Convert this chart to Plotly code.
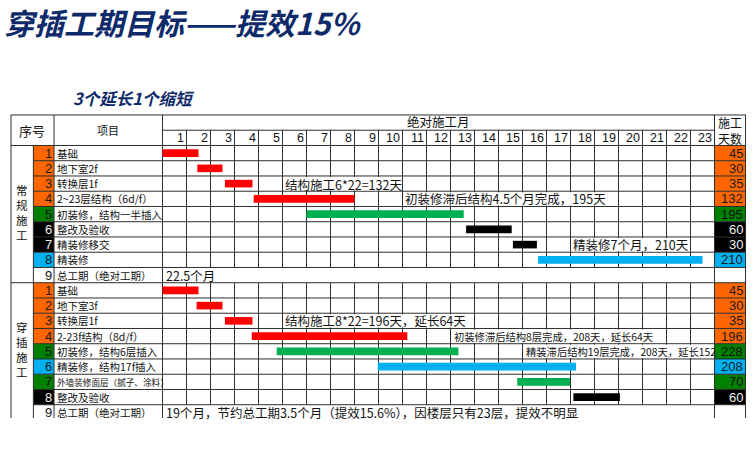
import plotly.graph_objects as go

# ---------------- data ----------------
months = list(range(1, 24))

sec1_name = "常规施工"
sec1_items = ["基础", "地下室2f", "转换层1f", "2~23层结构（6d/f）", "初装修，结构一半插入",
              "整改及验收", "精装修移交", "精装修", "总工期（绝对工期）"]
sec1_days = [45, 30, 35, 132, 195, 60, 30, 210]
sec1_start = [0.0, 1.45, 2.6, 3.8, 6.0, 12.65, 14.6, 15.65]
sec1_end = [1.5, 2.5, 3.75, 8.0, 12.55, 14.55, 15.6, 22.5]
sec1_cell = ["orange", "orange", "orange", "orange", "green", "black", "black", "cyan"]
sec1_bar = ["red", "red", "red", "red", "green", "black", "black", "cyan"]
sec1_total = "22.5个月"
sec1_notes = ["结构施工6*22=132天", "初装修滞后结构4.5个月完成，195天", "精装修7个月，210天"]

sec2_name = "穿插施工"
sec2_items = ["基础", "地下室3f", "转换层1f", "2-23f结构（8d/f）", "初装修，结构6层插入",
              "精装修，结构17f插入", "外墙装修面层（腻子、涂料）", "整改及验收", "总工期（绝对工期）"]
sec2_days = [45, 30, 35, 196, 228, 208, 70, 60]
sec2_start = [0.0, 1.42, 2.6, 3.72, 4.76, 8.97, 14.78, 17.12]
sec2_end = [1.5, 2.5, 3.75, 10.2, 12.33, 17.23, 16.98, 19.06]
sec2_cell = ["orange", "orange", "orange", "orange", "green", "cyan", "green", "black"]
sec2_bar = ["red", "red", "red", "red", "green", "cyan", "green", "black"]
sec2_total = "19个月，节约总工期3.5个月（提效15.6%），因楼层只有23层，提效不明显"
sec2_notes = ["结构施工8*22=196天，延长64天", "初装修滞后结构8层完成，208天，延长64天",
              "精装滞后结构19层完成，208天，延长152"]

title_text = "穿插工期目标——提效15%"
subtitle_text = "3个延长1个缩短"
header_month = "绝对施工月"

# ---------------- style ----------------
CELL = {"orange": "#FF6600", "green": "#008000", "black": "#000000", "cyan": "#00B0F0"}
BAR = {"red": "#FF0000", "green": "#00B050", "black": "#000000", "cyan": "#00B0F0"}
CELL_TXT = {"orange": "#1a1a1a", "green": "#111111", "black": "#f2f2f2", "cyan": "#1a1a1a"}
FONT = "Noto Sans CJK SC"
NUMFONT = "Liberation Sans"
LINE = "#2e2e2e"
NAVY = "#0E2A6B"

W, H = 755, 460
ML, MR, MT, MB = 10, 8, 113, 42
X0, X1 = -6.354, 24.354
Y0, Y1 = -0.13, 19.87

XL, XV, XN, XR, XE = -6.3125, -5.38, -4.52, 23.0, 24.3125  # column borders


def px_x(p):
    return (p - ML) / (W - ML - MR)


def px_y(p):
    return (H - MB - p) / (H - MT - MB)


fig = go.Figure()
shapes = []
ann = []


def hline(y, xa, xb):
    shapes.append(dict(type="line", xref="x", yref="y", x0=xa, x1=xb, y0=y, y1=y,
                       line=dict(color=LINE, width=1), layer="below"))


def vline(x, ya, yb):
    shapes.append(dict(type="line", xref="x", yref="y", x0=x, x1=x, y0=ya, y1=yb,
                       line=dict(color=LINE, width=1), layer="below"))


def rect(xa, xb, ya, yb, color):
    shapes.append(dict(type="rect", xref="x", yref="y", x0=xa, x1=xb, y0=ya, y1=yb,
                       fillcolor=color, line=dict(width=0), layer="below"))


def text(x, y, s, size, color="#111111", anchor="left", family=FONT, **kw):
    ann.append(dict(x=x, y=y, xref="x", yref="y", text=s, showarrow=False,
                    xanchor=anchor, yanchor="middle", borderpad=0,
                    font=dict(family=family, size=size, color=color), **kw))


sections = [
    (2, sec1_name, sec1_items, sec1_days, sec1_start, sec1_end, sec1_cell, sec1_bar, sec1_total),
    (11, sec2_name, sec2_items, sec2_days, sec2_start, sec2_end, sec2_cell, sec2_bar, sec2_total),
]

# cell fills
for top, name, items, days, st, en, cells, bars, total in sections:
    for i, c in enumerate(cells):
        rect(XV, XN, top + i, top + i + 1, CELL[c])
        rect(XR, XE, top + i, top + i + 1, CELL[c])

# horizontal lines
hline(0, XL, XE)
hline(1, 0, XR)
hline(2, XL, XE)
for k in range(3, 11):
    hline(k, XV, XE)
hline(11, XL, XE)
for k in range(12, 20):
    hline(k, XV, XE)

# vertical lines
vline(XL, 0, Y1)
vline(XV, 2, Y1)
vline(XN, 0, Y1)
vline(0, 0, Y1)
vline(XR, 0, Y1)
vline(XE - 0.02, 0, Y1)
for m in months[:-1]:
    vline(m, 1, 10)
    vline(m, 11, 19)

# white masks behind overflowing notes (cells covered by text)
masks = [(4, 5, 10), (5, 10, 19), (8, 17, 22), (13, 5, 13), (14, 12, 21), (15, 15, 23)]
for r, a, b in masks:
    rect(a + 0.05, b - 0.05, r + 0.07, r + 0.93, "#FFFFFF")

# bars
for top, name, items, days, st, en, cells, bars, total in sections:
    ys = [top + i + 0.5 for i in range(len(st))]
    fig.add_trace(go.Bar(
        orientation="h", y=ys, base=st, x=[e - s for s, e in zip(st, en)],
        width=0.5, marker=dict(color=[BAR[b] for b in bars], line=dict(width=0)),
        hoverinfo="skip", showlegend=False))

# header texts
text(-5.42, 1.0, "序号", 13, anchor="center")
text(-2.26, 1.0, "项目", 11, anchor="center")
text(11.5, 0.45, header_month, 12.5, anchor="center")
for m in months:
    text(m - 0.08, 1.52, str(m), 12.5, anchor="right", family=NUMFONT)
text(23.66, 1.0, "施工<br>天数", 12, anchor="center")

# rows
for top, name, items, days, st, en, cells, bars, total in sections:
    text(-5.85, top + 4.4, "<br>".join(name), 11.5, anchor="center")
    for i, it in enumerate(items):
        y = top + i + 0.5
        col = cells[i] if i < len(cells) else None
        text(XN - 0.06, y, str(i + 1), 13, color=CELL_TXT[col] if col else "#111111",
             anchor="right", family=NUMFONT)
        size = 8.6 if it.startswith("外墙") else 10.5
        text(XN + 0.07, y, it, size)
        if i < len(days):
            text(XE - 0.08, y, str(days[i]), 13, color=CELL_TXT[col], anchor="right",
                 family=NUMFONT)
    text(0.1, top + 8.5, total, 12.5)

# notes
text(5.05, 4.55, sec1_notes[0], 12.5)
text(10.08, 5.5, sec1_notes[1], 12.5)
text(17.05, 8.5, sec1_notes[2], 12.5)
text(5.05, 13.5, sec2_notes[0], 12.5)
text(12.1, 14.55, sec2_notes[1], 10.3)
text(15.1, 15.5, sec2_notes[2], 10.3)

# titles
ann.append(dict(x=px_x(2), y=px_y(22), xref="paper", yref="paper", text=title_text,
                showarrow=False, xanchor="left", yanchor="middle",
                font=dict(family=FONT, size=30, color=NAVY, weight="bold", style="italic")))
ann.append(dict(x=px_x(71), y=px_y(98), xref="paper", yref="paper", text=subtitle_text,
                showarrow=False, xanchor="left", yanchor="middle",
                font=dict(family=FONT, size=16.5, color=NAVY, weight="bold", style="italic")))

fig.update_layout(
    width=W, height=H, margin=dict(l=ML, r=MR, t=MT, b=MB, pad=0),
    paper_bgcolor="white", plot_bgcolor="white",
    shapes=shapes, annotations=ann, barmode="overlay",
    xaxis=dict(range=[X0, X1], visible=False, fixedrange=True),
    yaxis=dict(range=[Y1, Y0], visible=False, fixedrange=True),
)

fig.write_html("out.html")
